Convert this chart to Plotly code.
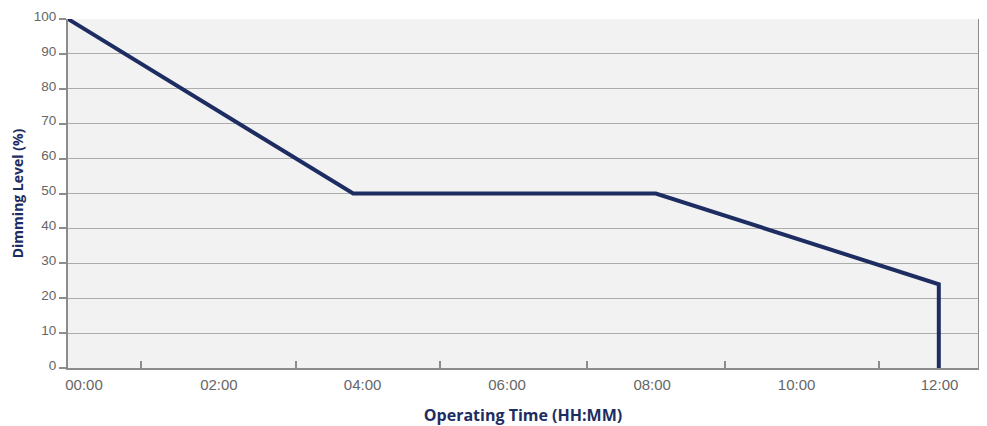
import plotly.graph_objects as go

# data (hours since start, dimming level %)
time_hours = [0, 3.93, 8.10, 12.0, 12.0]
dimming_level = [100, 50, 50, 24, 0]

x_tick_labels = ["00:00", "02:00", "04:00", "06:00", "08:00", "10:00", "12:00"]
x_label_pos = [0.22, 2.08, 4.06, 6.05, 8.05, 10.04, 12.01]
x_minor_ticks = [1.01, 3.14, 5.13, 7.15, 9.05, 11.17]
y_ticks = [0, 10, 20, 30, 40, 50, 60, 70, 80, 90, 100]

NAVY = "#1d2d62"
GRAY = "#8c8c8c"

fig = go.Figure()
fig.add_trace(go.Scatter(
    x=time_hours, y=dimming_level, mode="lines",
    line=dict(color=NAVY, width=4), hoverinfo="skip", cliponaxis=False,
))

# page body has an 8px default margin, so the figure is sized to fit inside it
fig.update_layout(
    width=979, height=418,
    margin=dict(l=60, r=9, t=11, b=58, autoexpand=False),
    paper_bgcolor="white", plot_bgcolor="#f2f2f2",
    showlegend=False,
    font=dict(family="Liberation Sans, Arial, sans-serif", color="#666666"),
)

fig.update_xaxes(
    range=[0, 12.54], showgrid=False, zeroline=False,
    showline=True, linecolor=GRAY, linewidth=2, mirror=False,
    tickmode="array", tickvals=x_label_pos, ticktext=x_tick_labels,
    ticks="", tickfont=dict(size=15, color="#666666"),
    ticklabelstandoff=2,
    minor=dict(tickmode="array", tickvals=x_minor_ticks, ticks="inside",
               ticklen=7, tickwidth=2, tickcolor=GRAY, showgrid=False),
    title=dict(text="<b>Operating Time (HH:MM)</b>", standoff=24,
               font=dict(family="Open Sans, sans-serif", size=16, color=NAVY)),
    automargin=False,
)
fig.update_yaxes(
    range=[0, 100], showgrid=True, gridcolor="#acacac", gridwidth=1,
    zeroline=False, showline=True, linecolor=GRAY, linewidth=2, mirror=True,
    tickmode="array", tickvals=y_ticks,
    ticks="outside", ticklen=7, tickwidth=1.5, tickcolor=GRAY,
    tickfont=dict(size=13.5, color="#666666"),
    ticklabelshift=-3, ticklabeloverflow="allow",
    title=dict(text="<b>Dimming Level (%)</b>", standoff=14,
               font=dict(family="Open Sans, sans-serif", size=14, color=NAVY)),
    automargin=False,
)

fig.write_html("out.html")
